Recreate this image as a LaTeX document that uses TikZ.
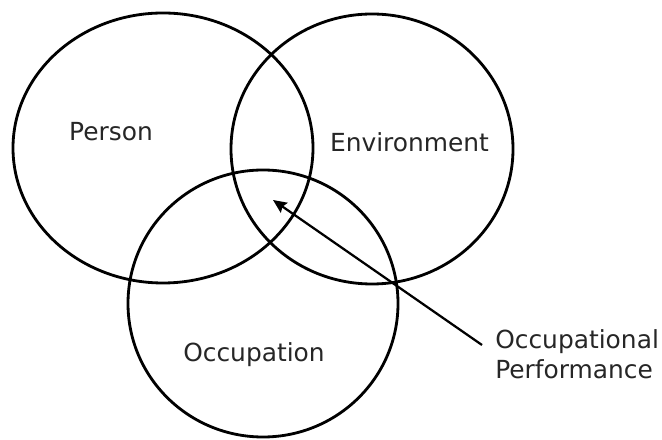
\documentclass[tikz,border=0pt]{standalone}
\usepackage{fontspec}
\setmainfont{DejaVu Sans}
\usetikzlibrary{arrows.meta}

\begin{document}
\begin{tikzpicture}[
    font=\fontsize{17.7}{21.3}\selectfont,
    ring/.style={draw=black,line width=2pt},
    lbl/.style={text=black!85,inner sep=0pt,anchor=base},
    pointer/.style={draw=black,line width=1.6pt,-{Stealth[length=0.34cm,width=0.3cm,inset=0.05cm]}}
]
    \useasboundingbox (0,0) rectangle (16.55,10.975);

    \draw[ring] (4.075,7.275) ellipse (3.75 and 3.375);
    \draw[ring] (9.3,7.25) ellipse (3.525 and 3.375);
    \draw[ring] (6.575,3.3875) ellipse (3.375 and 3.3375);

    \node[lbl] (person) at (2.775,7.45) {Person};
    \node[lbl] (env) at (10.2375,7.175) {Environment};
    \node[lbl] (occ) at (6.35,1.925) {Occupation};

    \node[lbl,anchor=north west,align=left] (perf) at (12.375,2.75)
        {Occupational\\Performance};

    \coordinate (tail) at (12.05,2.35);
    \coordinate (tip) at (6.825,5.975);
    \draw[pointer] (tail) -- (tip);
\end{tikzpicture}
\end{document}
